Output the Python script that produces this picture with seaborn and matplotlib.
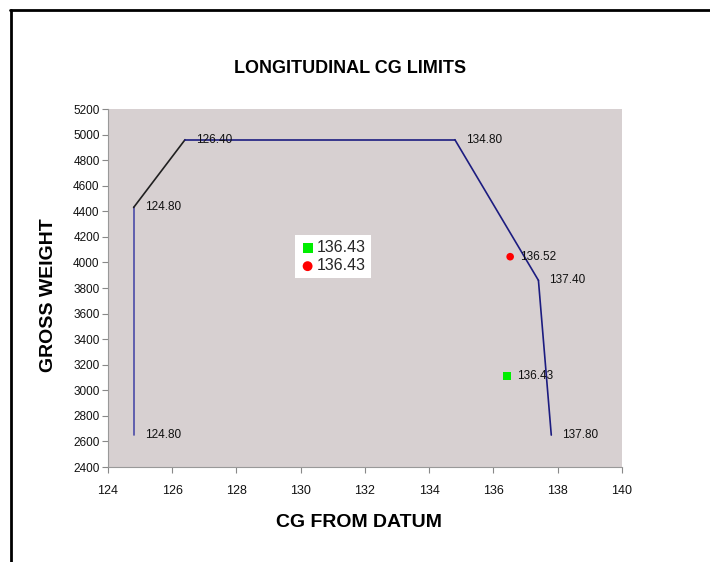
import pandas as pd
import matplotlib.pyplot as plt
import seaborn as sns
from matplotlib.lines import Line2D

# envelope points (CG, weight)
env_cg = [124.8, 124.8, 126.4, 134.8, 137.4, 137.8]
env_wt = [2650, 4430, 4960, 4960, 3860, 2650]
env_lbl = ['124.80', '124.80', '126.40', '134.80', '137.40', '137.80']
seg_colors = ['#4b4ba8', '#202020', '#1c1c80', '#1c1c80', '#1c1c80']

# loading points
pt_cg = [136.43, 136.52]
pt_wt = [3110, 4045]
pt_lbl = ['136.43', '136.52']
legend_lbl = ['136.43', '136.43']

sns.set_style('white')
plt.rcParams['font.family'] = ['Liberation Sans', 'DejaVu Sans']

fig = plt.figure(figsize=(7.1, 5.62), dpi=100)
ax = fig.add_axes([0.152, 0.169, 0.724, 0.637])
ax.set_facecolor('#d7d0d1')

env = pd.DataFrame({'cg': env_cg, 'wt': env_wt})
for i in range(len(env) - 1):
    sns.lineplot(data=env.iloc[i:i + 2], x='cg', y='wt', sort=False,
                 estimator=None, errorbar=None,
                 color=seg_colors[i], linewidth=1.2, ax=ax)

for x, y, t in zip(env_cg, env_wt, env_lbl):
    ax.annotate(t, (x, y), xytext=(8, 0), textcoords='offset points',
                va='center', ha='left', fontsize=8.5, color='#111111')

sns.scatterplot(x=[pt_cg[0]], y=[pt_wt[0]], marker='s', color='#00ee00',
                s=30, edgecolor='none', ax=ax, label=legend_lbl[0])
sns.scatterplot(x=[pt_cg[1]], y=[pt_wt[1]], marker='o', color='#ff0000',
                s=30, edgecolor='none', ax=ax, label=legend_lbl[1])
for x, y, t in zip(pt_cg, pt_wt, pt_lbl):
    ax.annotate(t, (x, y), xytext=(7, 0), textcoords='offset points',
                va='center', ha='left', fontsize=8.5, color='#111111')

leg = ax.legend(loc='upper left', bbox_to_anchor=(0.363, 0.648), frameon=True,
                fancybox=False, framealpha=1, edgecolor='white', fontsize=11.5,
                handletextpad=0.1, borderpad=0.32, handlelength=1.0,
                labelspacing=0.2, borderaxespad=0, markerscale=1.3)
leg.get_frame().set_linewidth(0)

ax.set_xlim(124, 140)
ax.set_ylim(2400, 5200)
ax.set_xticks(range(124, 141, 2))
ax.set_yticks(range(2400, 5201, 200))
ax.tick_params(axis='both', direction='out', length=4, width=0.8,
               color='#888888', labelsize=8.5, left=True, bottom=True, pad=2,
               labelcolor='#111111')
ax.tick_params(axis='x', pad=9, labelsize=9)
for s in ['top', 'right']:
    ax.spines[s].set_visible(False)
for s in ['left', 'bottom']:
    ax.spines[s].set_color('#999999')
    ax.spines[s].set_linewidth(0.8)

ax.set_xlabel('')
ax.set_ylabel('')
fig.text(0.493, 0.879, 'LONGITUDINAL CG LIMITS', ha='center', va='center',
         fontsize=13, fontweight='bold', color='black')
fig.text(0.505, 0.071, 'CG FROM DATUM', ha='center', va='center',
         fontsize=14, fontweight='bold', color='black')
fig.text(0.068, 0.475, 'GROSS WEIGHT', ha='center', va='center',
         fontsize=14, fontweight='bold', rotation=90, color='black')

# page border (top and left)
fig.add_artist(Line2D([0.014, 1.0], [0.982, 0.982], color='black', lw=2,
                      transform=fig.transFigure))
fig.add_artist(Line2D([0.0155, 0.0155], [0.0, 0.982], color='black', lw=2,
                      transform=fig.transFigure))

fig.savefig('out.png', dpi=100)
